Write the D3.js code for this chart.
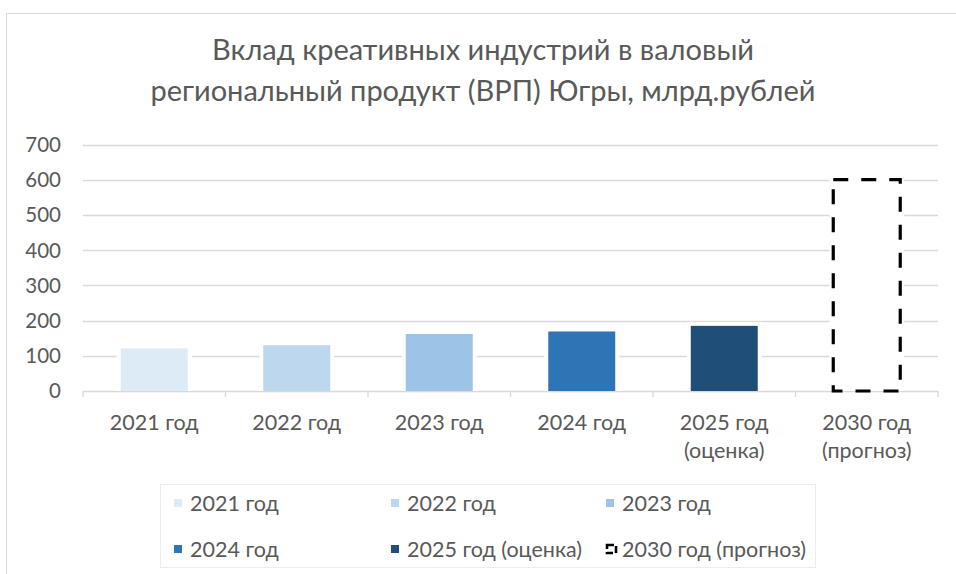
<!DOCTYPE html>
<html>
<head>
<meta charset="utf-8">
<script src="https://cdn.jsdelivr.net/npm/d3@7"></script>
<style>
  body { margin: 0; background: #fff; }
  text { font-family: Lato, "Open Sans", sans-serif; fill: #595959; }
</style>
</head>
<body>
<div id="chart"></div>
<script>
// data
const titleLines = ["Вклад креативных индустрий в валовый", "региональный продукт (ВРП) Югры, млрд.рублей"];
const categories = ["2021 год", "2022 год", "2023 год", "2024 год", "2025 год (оценка)", "2030 год (прогноз)"];
const axisLabels = [["2021 год"], ["2022 год"], ["2023 год"], ["2024 год"], ["2025 год", "(оценка)"], ["2030 год", "(прогноз)"]];
const values = [121, 130, 162, 169, 185, 600];
const colors = ["#DDEBF7", "#BDD7EE", "#9DC3E6", "#2E75B6", "#1F4E79", "none"];
const yTicks = [0, 100, 200, 300, 400, 500, 600, 700];

let width = 956, height = 574;

var svg = d3.select("#chart")
  .append("svg")
  .attr("width", width)
  .attr("height", height);

// chart frame
svg.append("rect")
  .attr("x", 6.5).attr("y", 13.5)
  .attr("width", 960).attr("height", 580)
  .attr("fill", "white")
  .attr("stroke", "#D9D9D9");

svg.append("text")
  .attr("text-anchor", "middle")
  .attr("font-size", 29)
  .selectAll("tspan")
  .data(titleLines)
  .enter()
  .append("tspan")
  .attr("x", 483)
  .attr("y", (d, i) => 60 + i * 41)
  .text(d => d);

let x = d3.scaleBand()
  .domain(categories)
  .range([83, 938])
  .paddingInner(0.53)
  .paddingOuter(0.265);

let y = d3.scaleLinear()
  .domain([0, 700])
  .range([391, 144.5]);

// gridlines
svg.append("g")
  .selectAll("line")
  .data(yTicks.slice(1))
  .enter()
  .append("line")
  .attr("x1", 83).attr("x2", 938)
  .attr("y1", d => Math.round(y(d)) + 0.5)
  .attr("y2", d => Math.round(y(d)) + 0.5)
  .attr("stroke", "#D9D9D9")
  .attr("stroke-width", 1.3);

// y labels
svg.append("g")
  .selectAll("text")
  .data(yTicks)
  .enter()
  .append("text")
  .attr("x", 61)
  .attr("y", d => y(d))
  .attr("dy", "0.36em")
  .attr("text-anchor", "end")
  .attr("font-size", 20.5)
  .text(d => d);

// x axis line and category ticks
let step = x.step();
svg.append("line")
  .attr("x1", 83).attr("x2", 938)
  .attr("y1", y(0) + 0.5).attr("y2", y(0) + 0.5)
  .attr("stroke", "#D9D9D9")
  .attr("stroke-width", 1.3);

svg.append("g")
  .selectAll("line")
  .data(d3.range(categories.length + 1))
  .enter()
  .append("line")
  .attr("x1", i => 83 + i * step)
  .attr("x2", i => 83 + i * step)
  .attr("y1", y(0))
  .attr("y2", y(0) + 6)
  .attr("stroke", "#D9D9D9")
  .attr("stroke-width", 1.3);

// white gap behind bars
svg.append("g")
  .selectAll("rect")
  .data(values)
  .enter()
  .append("rect")
  .attr("x", (d, i) => x(categories[i]) - 4)
  .attr("y", d => y(d) - 4)
  .attr("width", x.bandwidth() + 8)
  .attr("height", d => y(0) - y(d) + 4)
  .attr("fill", "white");

// solid bars
svg.append("g")
  .selectAll("rect")
  .data(values.slice(0, 5))
  .enter()
  .append("rect")
  .attr("x", (d, i) => x(categories[i]))
  .attr("y", d => y(d))
  .attr("width", x.bandwidth())
  .attr("height", d => y(0) - y(d))
  .attr("fill", (d, i) => colors[i]);

// forecast bar, dashed outline
svg.append("rect")
  .attr("x", x(categories[5]))
  .attr("y", y(values[5]))
  .attr("width", x.bandwidth())
  .attr("height", y(0) - y(values[5]))
  .attr("fill", "white")
  .attr("stroke", "black")
  .attr("stroke-width", 3.2)
  .attr("stroke-dasharray", "15,13");

// x labels
svg.append("g")
  .selectAll("text")
  .data(axisLabels)
  .enter()
  .append("text")
  .attr("text-anchor", "middle")
  .attr("font-size", 21.5)
  .each(function (d, i) {
    d3.select(this).selectAll("tspan")
      .data(d)
      .enter()
      .append("tspan")
      .attr("x", x(categories[i]) + x.bandwidth() / 2)
      .attr("y", (t, j) => 430 + j * 28)
      .text(t => t);
  });

// legend
svg.append("rect")
  .attr("x", 160.5).attr("y", 484.5)
  .attr("width", 655).attr("height", 83)
  .attr("fill", "none")
  .attr("stroke", "#EDEDED");

let legendCols = [174, 391, 606];
let legendRows = [503, 549];

let legend = svg.append("g")
  .selectAll("g")
  .data(categories)
  .enter()
  .append("g")
  .attr("transform", (d, i) => "translate(" + legendCols[i % 3] + "," + legendRows[Math.floor(i / 3)] + ")");

legend.append("rect")
  .attr("x", (d, i) => i == 5 ? 1 : 0)
  .attr("y", -4)
  .attr("width", (d, i) => i == 5 ? 9 : 8)
  .attr("height", 8)
  .attr("fill", (d, i) => i == 5 ? "white" : colors[i])
  .attr("stroke", (d, i) => i == 5 ? "black" : "none")
  .attr("stroke-width", 2.6)
  .attr("stroke-dasharray", (d, i) => i == 5 ? "7,3" : null);

legend.append("text")
  .attr("x", 16)
  .attr("y", 0)
  .attr("dy", "0.36em")
  .attr("font-size", 21.5)
  .text(d => d);
</script>
</body>
</html>
